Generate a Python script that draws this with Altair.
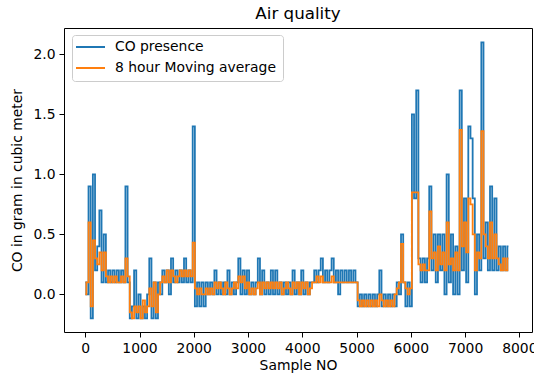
import altair as alt
import pandas as pd

# Sample index (every 40th sample) and readings
sample_no = list(range(0, 7840, 40))

co_presence = [
    0.1, 0.0, 0.9, -0.2, 1.0, 0.2, 0.4, 0.7, 0.1, 0.5,
    0.1, 0.2, 0.1, 0.2, 0.1, 0.2, 0.1, 0.2, 0.1, 0.9,
    0.1, -0.2, -0.1, 0.2, -0.2, 0.0, -0.2, -0.1, -0.2, 0.0,
    0.3, -0.2, 0.1, -0.2, 0.1, 0.0, 0.2, 0.1, 0.2, 0.0,
    0.3, 0.1, 0.2, 0.1, 0.2, 0.1, 0.3, 0.1, 0.2, 0.1,
    1.4, -0.1, 0.1, -0.1, 0.1, -0.1, 0.1, 0.0, 0.1, 0.0,
    0.2, 0.0, 0.1, 0.0, 0.1, 0.0, 0.2, 0.0, 0.1, 0.0,
    0.1, 0.3, 0.0, 0.2, 0.0, 0.2, 0.0, 0.1, 0.0, 0.1,
    0.3, 0.0, 0.2, 0.0, 0.1, 0.0, 0.2, 0.0, 0.2, 0.0,
    0.1, 0.0, 0.1, 0.0, 0.1, 0.0, 0.2, 0.0, 0.1, 0.0,
    0.2, 0.0, 0.1, 0.0, 0.1, 0.1, 0.2, 0.1, 0.2, 0.3,
    0.1, 0.2, 0.1, 0.2, 0.3, 0.1, 0.2, 0.0, 0.2, 0.1,
    0.2, 0.1, 0.2, 0.1, 0.2, 0.1, -0.1, 0.0, -0.1, 0.0,
    -0.1, 0.0, -0.1, 0.0, -0.1, 0.0, 0.2, -0.1, 0.0, -0.1,
    0.0, -0.1, 0.0, -0.1, 0.1, 0.0, 0.5, 0.1, -0.1, 0.1,
    -0.1, 1.5, 0.8, 1.7, 0.3, 0.1, 0.3, 0.1, 0.3, 0.9,
    0.2, 0.5, 0.1, 0.5, 0.2, 0.5, 0.0, 1.0, 0.1, 0.5,
    0.0, 0.4, 0.0, 1.7, 0.2, 0.8, 0.1, 1.4, 1.3, 0.8,
    0.0, 0.5, 0.2, 2.1, 0.3, 0.6, 0.2, 0.9, 0.2, 0.8,
    0.2, 0.4, 0.2, 0.4, 0.2, 0.4,
]

moving_average = [
    0.0, 0.1, 0.6, -0.1, 0.45, 0.3, 0.25, 0.35, 0.2, 0.35,
    0.15, 0.1, 0.15, 0.1, 0.15, 0.1, 0.1, 0.15, 0.1, 0.3,
    0.15, -0.15, -0.2, -0.1, -0.15, -0.1, -0.2, -0.05, -0.15, -0.1,
    0.05, -0.1, 0.1, -0.15, 0.0, 0.1, 0.15, 0.1, 0.2, 0.1,
    0.2, 0.15, 0.1, 0.15, 0.2, 0.15, 0.2, 0.15, 0.2, 0.15,
    0.43, 0.05, 0.0, 0.05, 0.0, 0.0, 0.05, 0.0, 0.05, 0.0,
    0.1, 0.05, 0.1, 0.05, 0.0, 0.1, 0.05, 0.0, 0.05, 0.1,
    0.05, 0.15, 0.1, 0.15, 0.05, 0.1, 0.0, 0.05, 0.0, 0.05,
    0.1, 0.0, 0.1, 0.05, 0.1, 0.05, 0.1, 0.05, 0.1, 0.05,
    0.1, 0.0, 0.05, 0.1, 0.05, 0.0, 0.1, 0.05, 0.1, 0.0,
    0.1, 0.05, 0.1, 0.0, 0.05, 0.1, 0.1, 0.15, 0.1, 0.15,
    0.1, 0.1, 0.1, 0.1, 0.15, 0.1, 0.1, 0.1, 0.1, 0.1,
    0.1, 0.1, 0.1, 0.1, 0.1, 0.1, -0.05, -0.1, -0.05, -0.1,
    -0.05, -0.1, -0.05, -0.1, -0.05, -0.1, 0.0, -0.05, -0.1, -0.05,
    -0.1, -0.05, -0.1, 0.0, 0.05, 0.1, 0.42, 0.1, 0.05, 0.0,
    0.05, 0.85, 0.85, 0.85, 0.25, 0.2, 0.25, 0.2, 0.2, 0.69,
    0.3, 0.35, 0.2, 0.4, 0.25, 0.35, 0.2, 0.6, 0.25, 0.3,
    0.2, 0.35, 0.2, 1.37, 0.4, 0.6, 0.35, 0.8, 0.75, 0.5,
    0.2, 0.35, 0.3, 1.36, 0.5, 0.4, 0.3, 0.6, 0.3, 0.5,
    0.3, 0.25, 0.2, 0.3, 0.2, 0.3,
]

series_names = ["CO presence", "8 hour Moving average"]
series_colors = ["#1f77b4", "#ff7f0e"]

df = pd.DataFrame({
    "sample": sample_no,
    "CO presence": co_presence,
    "8 hour Moving average": moving_average,
})
legend_df = pd.DataFrame({"series": series_names})

FONT = "DejaVu Sans"
color_scale = alt.Scale(domain=series_names, range=series_colors)

lines = alt.Chart(df).transform_fold(
    series_names, as_=["series", "value"]
).mark_line(strokeWidth=1.8, clip=True, interpolate="step").encode(
    x=alt.X(
        "sample:Q",
        scale=alt.Scale(domain=[-392, 8234], nice=False, zero=False),
        axis=alt.Axis(values=list(range(0, 9000, 1000)), format="d", title="Sample NO"),
    ),
    y=alt.Y(
        "value:Q",
        scale=alt.Scale(domain=[-0.314, 2.219], nice=False, zero=False),
        axis=alt.Axis(values=[0, 0.5, 1.0, 1.5, 2.0], format=".1f",
                      title="CO in gram in cubic meter"),
    ),
    color=alt.Color("series:N", scale=color_scale, legend=None),
)

# Legend drawn inside the plot, upper left, as in the reference
legend_y = alt.Y("series:N", scale=alt.Scale(type="point", domain=series_names,
                                              range=[19, 40], padding=0), axis=None)
legend_box = alt.Chart(pd.DataFrame({"k": [0]})).mark_rect(
    fill="#ffffff", fillOpacity=0.8, stroke="#cccccc", strokeWidth=1, cornerRadius=3
).encode(x=alt.value(8.5), x2=alt.value(219.5), y=alt.value(7.5), y2=alt.value(53.5))
legend_rules = alt.Chart(legend_df).mark_rule(strokeWidth=2).encode(
    x=alt.value(12), x2=alt.value(41), y=legend_y,
    color=alt.Color("series:N", scale=color_scale, legend=None),
)
legend_text = alt.Chart(legend_df).mark_text(
    align="left", baseline="middle", font=FONT, fontSize=13.9, color="#000000"
).encode(x=alt.value(51), y=legend_y, text="series:N")

chart = alt.layer(lines, legend_box, legend_rules, legend_text).resolve_scale(
    y="independent"
).properties(
    width=468, height=304,
    title=alt.TitleParams("Air quality", fontSize=16.7, font=FONT, fontWeight="normal",
                          color="#000000", anchor="middle", offset=5),
    autosize=alt.AutoSizeParams(type="none"),
    padding={"left": 64, "top": 28, "right": 2, "bottom": 44},
).configure_view(
    stroke="#000000", strokeWidth=1
).configure_axis(
    grid=False, domain=False, ticks=True, tickColor="#000000", tickSize=5, tickWidth=1,
    labelFont=FONT, labelFontSize=13.9, labelColor="#000000", labelPadding=4,
    titleFont=FONT, titleFontSize=13.9, titleColor="#000000", titleFontWeight="normal",
).configure_axisX(titlePadding=4).configure_axisY(titlePadding=8)

chart.save("out.html", embed_options={"renderer": "svg", "actions": False})
